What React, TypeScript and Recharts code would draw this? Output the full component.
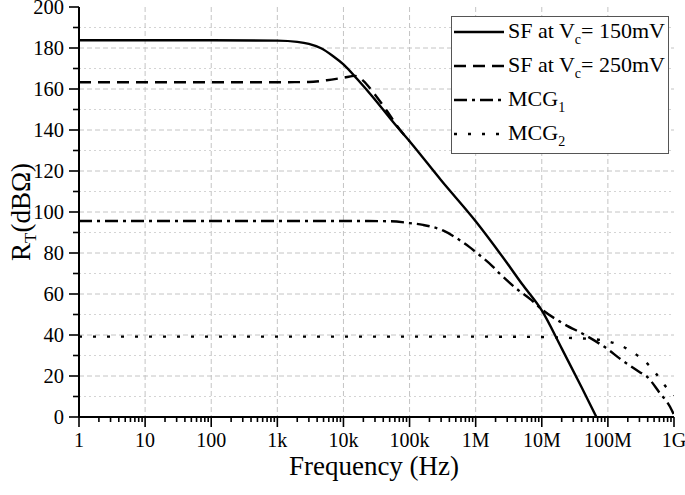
import React from "react";
import { LineChart, Line, XAxis, YAxis, CartesianGrid } from "recharts";

const FONT = "Liberation Serif, Times New Roman, serif";

// axis ticks
const decades = [1, 10, 100, 1e3, 1e4, 1e5, 1e6, 1e7, 1e8, 1e9];
const decadeLabels = ["1", "10", "100", "1k", "10k", "100k", "1M", "10M", "100M", "1G"];
const minorFactors = [2, 3, 4, 5, 6, 7, 8, 9];
const yMajor = [0, 20, 40, 60, 80, 100, 120, 140, 160, 180, 200];
const yMinor = [10, 30, 50, 70, 90, 110, 130, 150, 170, 190];

// SF at Vc = 150mV (solid)
const sf150Freq = [1, 10, 100, 1000, 2000, 3000, 4500, 7000, 1e4, 1.6e4, 2.8e4, 5.6e4, 1e5, 3e5, 1e6, 3e6, 5e6, 1e7, 2e7, 4e7, 6.7e7];
const sf150Rt = [183.8, 183.8, 183.8, 183.6, 183, 182, 180, 176, 172, 165, 156, 144, 134.5, 115.5, 95.5, 75, 65, 52, 33.5, 14.5, 0];

// SF at Vc = 250mV (dashed)
const sf250Freq = [1, 10, 100, 1000, 3000, 5600, 1e4, 1.5e4, 2e4, 2.8e4, 4.5e4, 7e4, 1e5];
const sf250Rt = [163.3, 163.3, 163.3, 163.3, 163.4, 164.3, 165.5, 166.4, 164, 158.5, 149.5, 140.5, 134.6];

// MCG1 (dash-dot)
const mcg1Freq = [1, 10, 100, 1000, 1e4, 5e4, 1e5, 1.6e5, 3.2e5, 5e5, 8e5, 1e6, 1.8e6, 2.3e6, 4e6, 7e6, 1e7, 2e7, 4.8e7, 1e8, 1.5e8, 3e8, 3.9e8, 6e8, 8.7e8, 1e9];
const mcg1Rt = [95.6, 95.6, 95.6, 95.6, 95.6, 95.5, 94.6, 93.7, 91, 87.5, 83, 80.5, 73.5, 70, 63, 57, 52.5, 46, 39.5, 33, 28.6, 22, 19.7, 12, 5, 1];

// MCG2 (dotted)
const mcg2Freq = [1, 10, 100, 1000, 1e4, 1e5, 1e6, 1e7, 3e7, 7.6e7, 1.9e8, 4.4e8, 8.3e8, 1e9];
const mcg2Rt = [39.2, 39.2, 39.2, 39.2, 39.2, 39.2, 39.2, 39, 38.5, 37.6, 33.5, 24.5, 13.2, 10.5];

const toRows = (f: number[], v: number[]) => f.map((x, i) => ({ f: x, rt: v[i] }));

const sf150 = toRows(sf150Freq, sf150Rt);
const sf250 = toRows(sf250Freq, sf250Rt);
const mcg1 = toRows(mcg1Freq, mcg1Rt);
const mcg2 = toRows(mcg2Freq, mcg2Rt);

const xTicks = [
  ...decades,
  ...decades.slice(0, -1).flatMap((d) => minorFactors.map((m) => m * d)),
].sort((a, b) => a - b);
const yTicks = [...yMajor, ...yMinor].sort((a, b) => a - b);

const DASHED = "12 7";
const DASHDOT = "13 5 3 5";
const DOTTED = "3 11";

const XTick = (props: any) => {
  const { x, y, payload } = props;
  const i = decades.indexOf(payload.value);
  const major = i >= 0;
  return (
    <g>
      <line x1={x} x2={x} y1={y} y2={y + (major ? 10 : 5)} stroke="#000" strokeWidth={1.6} />
      {major && (
        <text x={x} y={y + 30} textAnchor="middle" fontSize={20} fontFamily={FONT} fill="#000">
          {decadeLabels[i]}
        </text>
      )}
    </g>
  );
};

const YTick = (props: any) => {
  const { x, y, payload } = props;
  const major = payload.value % 20 === 0;
  return (
    <g>
      <line x1={x - (major ? 10 : 6)} x2={x} y1={y} y2={y} stroke="#000" strokeWidth={1.6} />
      {major && (
        <text x={x - 15} y={y} dy="0.35em" textAnchor="end" fontSize={20.5} fontFamily={FONT} fill="#000">
          {payload.value}
        </text>
      )}
    </g>
  );
};

const subStyle = { fontSize: 14, verticalAlign: "-6px" };

const legendItems = [
  { dash: undefined, label: <>SF at V<sub style={subStyle}>c</sub>= 150mV</> },
  { dash: DASHED, label: <>SF at V<sub style={subStyle}>c</sub>= 250mV</> },
  { dash: DASHDOT, label: <>MCG<sub style={subStyle}>1</sub></> },
  { dash: DOTTED, label: <>MCG<sub style={subStyle}>2</sub></> },
];

const ChartLegend = () => (
  <div
    style={{
      position: "absolute",
      left: 451,
      top: 16,
      width: 218,
      height: 138,
      boxSizing: "border-box",
      border: "1px solid #555",
      background: "#fff",
      fontFamily: FONT,
      fontSize: 22,
    }}
  >
    {legendItems.map((it, i) => (
      <div key={i} style={{ position: "absolute", left: 0, top: 15 + i * 34 - 14, height: 28, width: 216 }}>
        <svg width={52} height={28} style={{ position: "absolute", left: 1, top: 0 }}>
          <line x1={1} x2={51} y1={14} y2={14} stroke="#000" strokeWidth={2.4} strokeDasharray={it.dash} />
        </svg>
        <span style={{ position: "absolute", left: 56, top: 0, whiteSpace: "nowrap", lineHeight: "26px" }}>{it.label}</span>
      </div>
    ))}
  </div>
);

export default function App() {
  return (
    <div style={{ position: "absolute", left: 0, top: 0, width: 685, height: 495, background: "#fff" }}>
      <LineChart width={685} height={495} margin={{ top: 7, right: 11, bottom: 0, left: 0 }}>
        <CartesianGrid
          vertical={false}
          horizontalValues={yMinor}
          stroke="#d4d4d4"
          strokeDasharray="2 3"
        />
        <CartesianGrid
          verticalValues={decades.slice(1, -1)}
          horizontalValues={yMajor.slice(1, -1)}
          stroke="#c4c4c4"
          strokeDasharray="5 3"
        />
        <XAxis
          dataKey="f"
          type="number"
          scale="log"
          domain={[1, 1e9]}
          ticks={xTicks}
          interval={0}
          tick={<XTick />}
          tickLine={false}
          tickSize={0}
          tickMargin={0}
          height={78}
          allowDataOverflow
          axisLine={{ stroke: "#000", strokeWidth: 2 }}
        />
        <YAxis
          type="number"
          domain={[0, 200]}
          ticks={yTicks}
          interval={0}
          tick={<YTick />}
          tickLine={false}
          tickSize={0}
          tickMargin={0}
          width={79}
          allowDataOverflow
          axisLine={{ stroke: "#000", strokeWidth: 2 }}
        />
        <Line data={mcg2} dataKey="rt" type="monotone" stroke="#000" strokeWidth={2.4} strokeDasharray={DOTTED} dot={false} isAnimationActive={false} />
        <Line data={mcg1} dataKey="rt" type="monotone" stroke="#000" strokeWidth={2.4} strokeDasharray={DASHDOT} dot={false} isAnimationActive={false} />
        <Line data={sf250} dataKey="rt" type="monotone" stroke="#000" strokeWidth={2.4} strokeDasharray={DASHED} dot={false} isAnimationActive={false} />
        <Line data={sf150} dataKey="rt" type="monotone" stroke="#000" strokeWidth={2.4} dot={false} isAnimationActive={false} />
      </LineChart>
      <svg width={685} height={495} style={{ position: "absolute", left: 0, top: 0, pointerEvents: "none" }}>
        <text x={374} y={475} textAnchor="middle" fontSize={27} fontFamily={FONT} fill="#000">
          Frequency (Hz)
        </text>
        <text transform="translate(30,212) rotate(-90)" textAnchor="middle" fontSize={27} fontFamily={FONT} fill="#000">
          R<tspan fontSize={17} dy={6}>T</tspan>
          <tspan dy={-6}>(dBΩ)</tspan>
        </text>
      </svg>
      <ChartLegend />
    </div>
  );
}
